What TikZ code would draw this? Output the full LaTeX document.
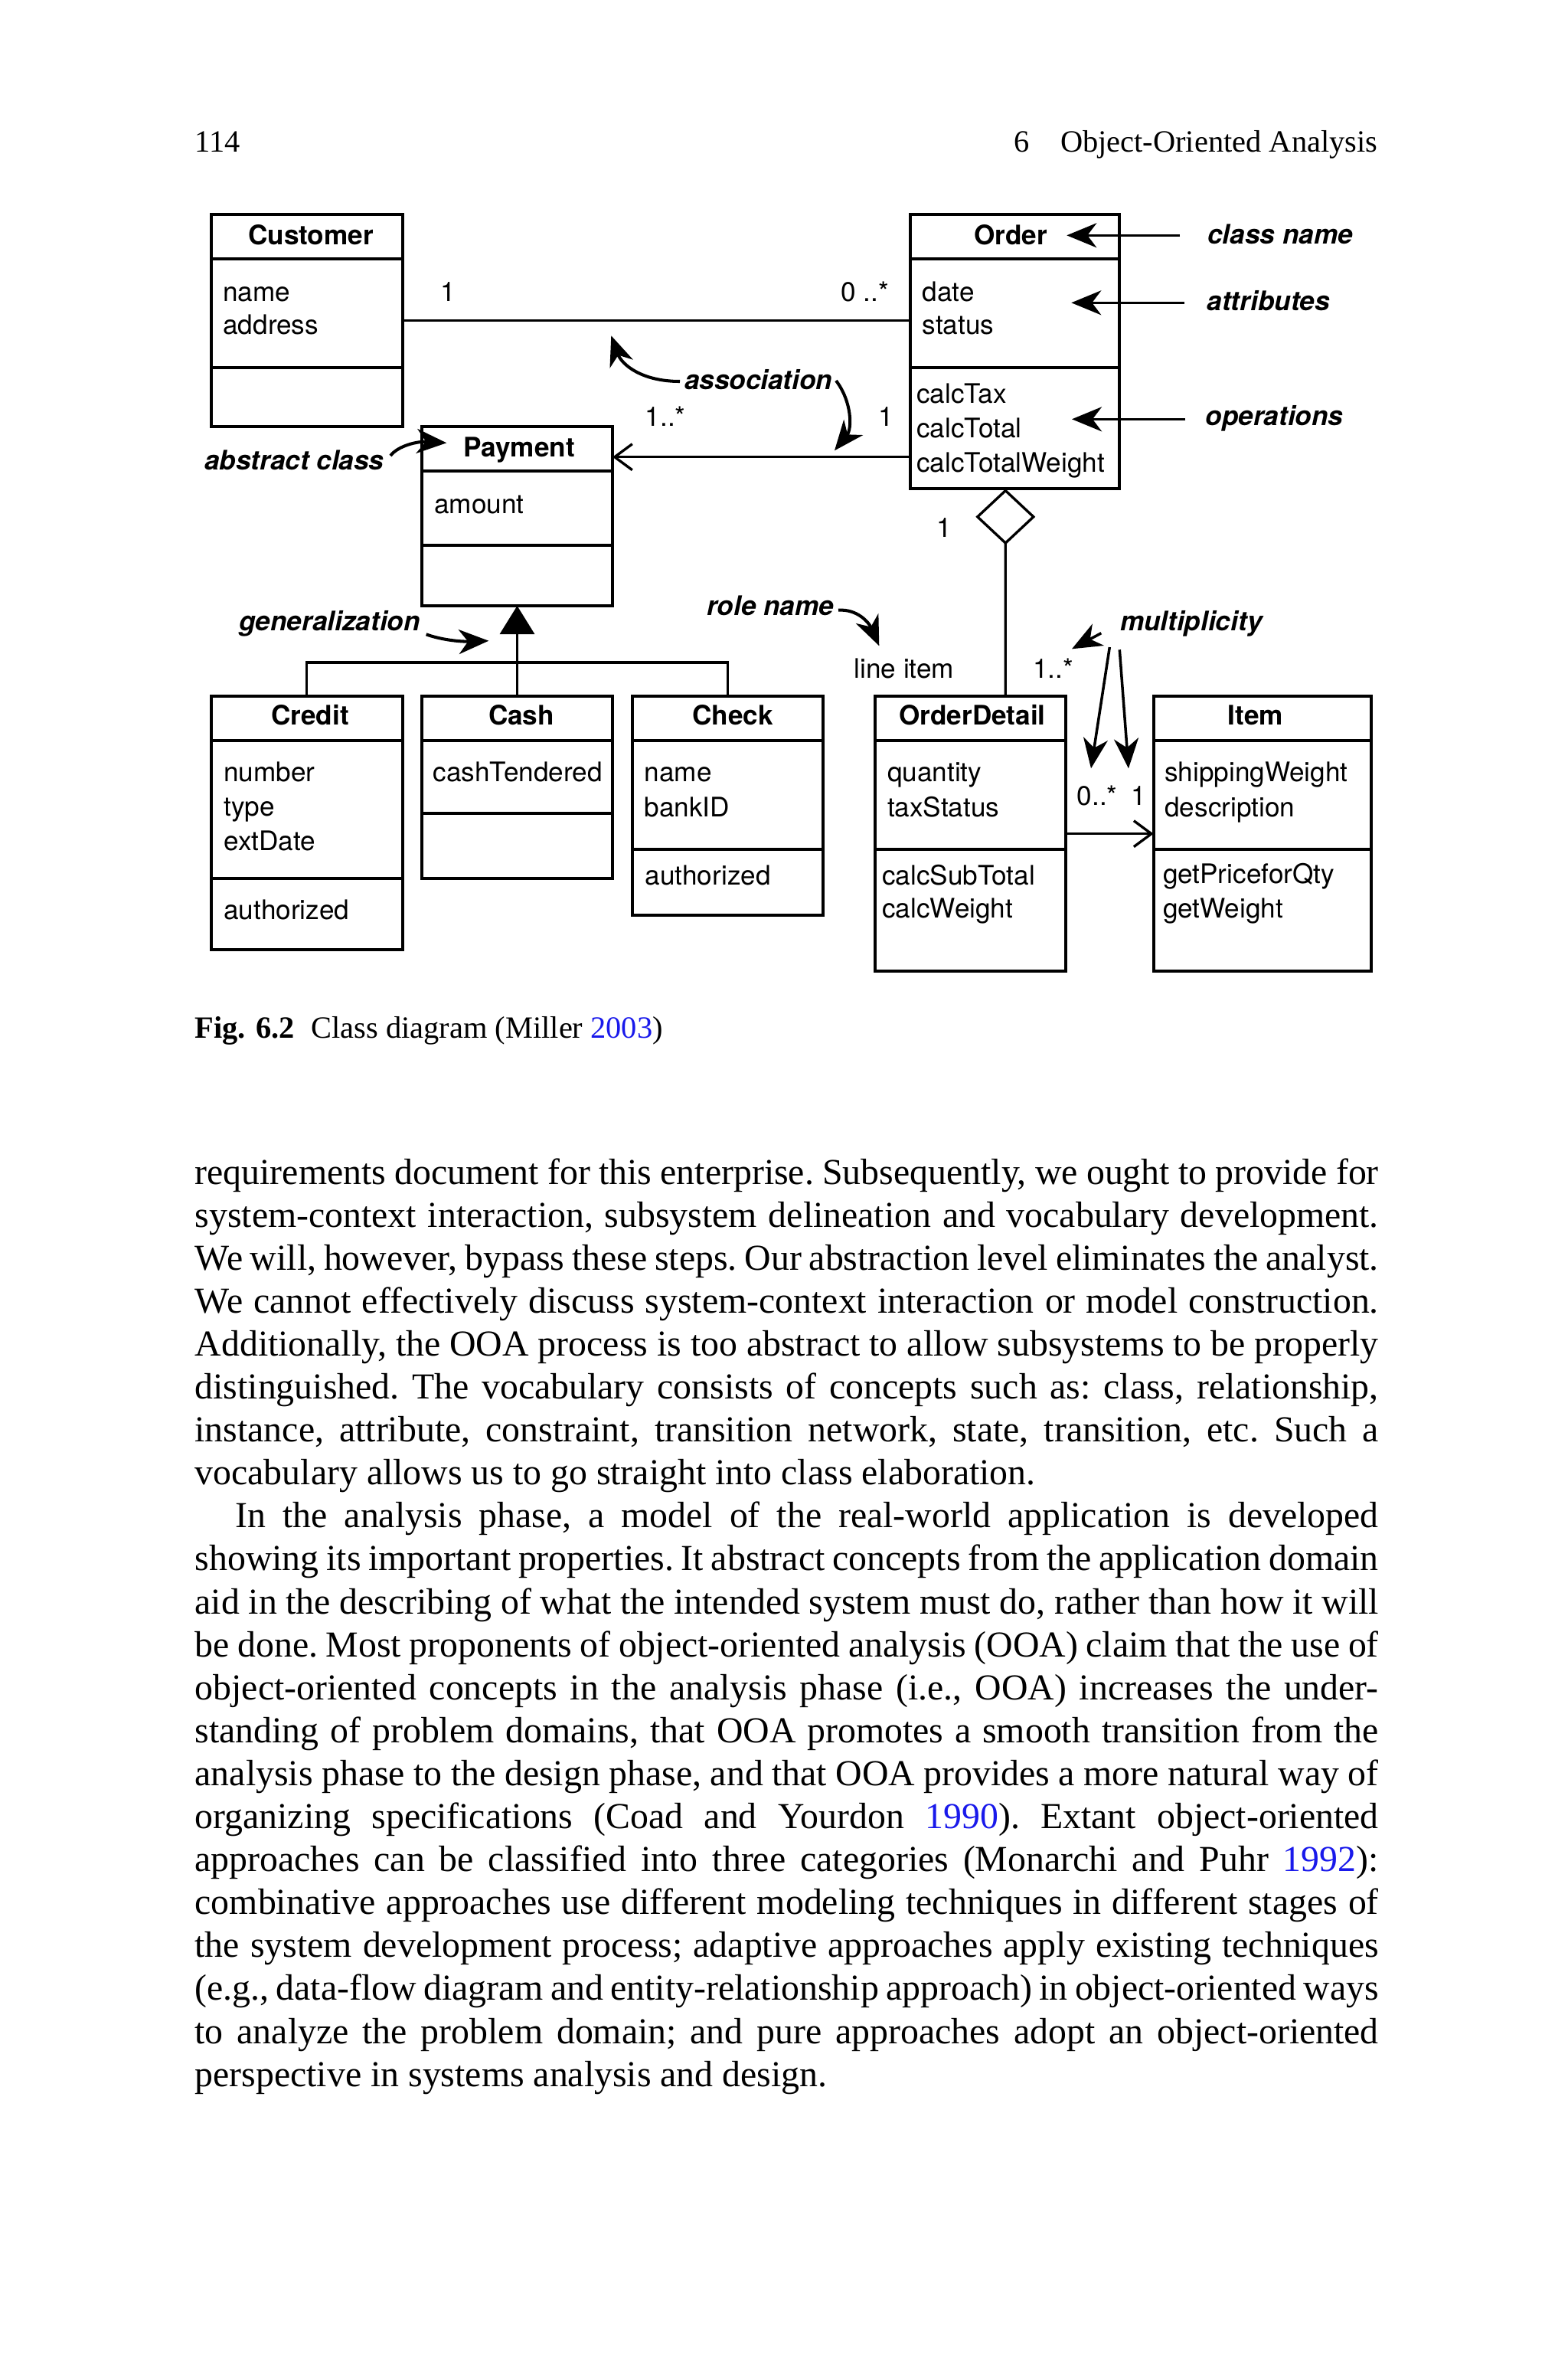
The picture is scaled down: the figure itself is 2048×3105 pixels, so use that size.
\documentclass[tikz,border=0pt]{standalone}
\usepackage{fontspec}
\setmainfont{Liberation Serif}
\newfontfamily\hv{TeX Gyre Heros}
\usetikzlibrary{arrows.meta,fit,calc}
\definecolor{citeblue}{RGB}{25,25,235}
\tikzset{
  cbox/.style={draw, line width=1.15pt, inner sep=0pt, outer sep=0pt},
  cdiv/.style={line width=1.15pt},
  conn/.style={line width=0.95pt},
  ann/.style={line width=1.0pt, -{Stealth[length=3.9mm,width=3.2mm,inset=1.2mm]}},
  cann/.style={ann, line width=1.15pt},
  navarrow/.style={conn, -{Straight Barb[length=2.3mm,width=3.4mm]}},
  ctitle/.style={font=\hv\bfseries\fontsize{10}{12}\selectfont, inner sep=0pt, anchor=base},
  ctxt/.style={font=\hv\fontsize{10}{12}\selectfont, inner sep=0pt, anchor=base west},
  atxt/.style={font=\hv\bfseries\itshape\fontsize{10}{12}\selectfont, inner sep=0pt, anchor=base west},
  body/.style={font=\fontsize{13.6}{16.3}\selectfont, inner sep=0pt, anchor=base west},
  runhead/.style={font=\fontsize{11.5}{13.8}\selectfont, inner sep=0pt},
}
\newcommand\umlclass[7]{%
  \node[cbox, fit={(#2,#3) (#4,#5)}] (#1) {};
  \draw[cdiv] (#2,#6) -- (#4,#6);
  \draw[cdiv] (#2,#7) -- (#4,#7);
}
\newcommand\jline[3]{\node[body] (#1) at (254,#2) {\frenchspacing\hbox to 154.6mm{#3}};}
\newcommand\nline[3]{\node[body] (#1) at (254,#2) {\frenchspacing #3};}
\begin{document}
\begin{tikzpicture}[x=0.1mm,y=-0.1mm]
\useasboundingbox (0,0) rectangle (2048,3105);
\fill[white] (0,0) rectangle (2048,3105);

% running head
\node[runhead, anchor=base west] (pageno) at (254,198) {114};
\node[runhead, anchor=base east] (chap) at (1800,198) {6\hspace{4mm}Object-Oriented Analysis};

% ---------- classes ----------
\umlclass{customer}{275.7}{280}{525.7}{556.7}{337.7}{480}
\node[ctitle] (customer-t) at (406,319.3) {Customer};
\node[ctxt] (customer-a1) at (290.7,393.3) {name};
\node[ctxt] (customer-a2) at (290.7,436.7) {address};

\umlclass{order}{1189.3}{280}{1462.3}{638.3}{337.7}{480}
\node[ctitle] (order-t) at (1320,319.3) {Order};
\node[ctxt] (order-a1) at (1204,393.3) {date};
\node[ctxt] (order-a2) at (1204,436.7) {status};
\node[ctxt] (order-o1) at (1196.7,526.7) {calcTax};
\node[ctxt] (order-o2) at (1196.7,571.7) {calcTotal};
\node[ctxt] (order-o3) at (1196.7,616.7) {calcTotalWeight};

\umlclass{payment}{551}{557.3}{800}{791}{615}{711.7}
\node[ctitle] (payment-t) at (678,596.7) {Payment};
\node[ctxt] (payment-a1) at (566.7,670) {amount};

\umlclass{credit}{275.7}{909}{525.7}{1240}{966.7}{1147.3}
\node[ctitle] (credit-t) at (405,946.7) {Credit};
\node[ctxt] (credit-a1) at (291.7,1020) {number};
\node[ctxt] (credit-a2) at (291.7,1065) {type};
\node[ctxt] (credit-a3) at (291.7,1110) {extDate};
\node[ctxt] (credit-o1) at (291.7,1200) {authorized};

\umlclass{cash}{551}{909}{800}{1146.7}{966.7}{1062.3}
\node[ctitle] (cash-t) at (681,946.7) {Cash};
\node[ctxt] (cash-a1) at (565,1020) {cashTendered};

\umlclass{check}{826}{909}{1075}{1195}{966.7}{1109.3}
\node[ctitle] (check-t) at (957,946.7) {Check};
\node[ctxt] (check-a1) at (841,1020) {name};
\node[ctxt] (check-a2) at (841,1066.7) {bankID};
\node[ctxt] (check-o1) at (842,1155) {authorized};

\umlclass{orderdetail}{1142.7}{909}{1392.3}{1268.3}{966.7}{1109.3}
\node[ctitle] (orderdetail-t) at (1270,946.7) {OrderDetail};
\node[ctxt] (orderdetail-a1) at (1158.3,1020) {quantity};
\node[ctxt] (orderdetail-a2) at (1158.3,1066.7) {taxStatus};
\node[ctxt] (orderdetail-o1) at (1151.7,1155) {calcSubTotal};
\node[ctxt] (orderdetail-o2) at (1151.7,1198.3) {calcWeight};

\umlclass{item}{1506.7}{909}{1790.7}{1268.3}{966.7}{1109.3}
\node[ctitle] (item-t) at (1640,946.7) {Item};
\node[ctxt] (item-a1) at (1520.7,1020) {shippingWeight};
\node[ctxt] (item-a2) at (1520.7,1066.7) {description};
\node[ctxt] (item-o1) at (1518.3,1153.3) {getPriceforQty};
\node[ctxt] (item-o2) at (1518.3,1198.3) {getWeight};

% ---------- relations ----------
\draw[conn] (customer.east) -- (customer.east -| order.west);
\coordinate (payy) at (0,596.7);
\draw[navarrow] (order.west |- payy) -- (payment.east |- payy);
\draw[conn, -{Diamond[open,length=7.3mm,width=7.8mm]}]
  ($(orderdetail.north)+(45.8,0)$) -- ($(order.south)+(-12.5,0)$);
\draw[navarrow] (orderdetail.east) -- (item.west);
\coordinate (gj) at (675.5,865);
\draw[conn] (credit.north) |- (gj) -| (check.north);
\draw[conn, -{Triangle[length=3.7mm,width=4.5mm]}] (cash.north) -- (payment.south);

% multiplicities
\node[ctxt] (m1) at (575,393) {1};
\node[ctxt] (m2) at (1098,393) {0 ..*};
\node[ctxt] (m3) at (842,556.7) {1..*};
\node[ctxt] (m4) at (1147,556.7) {1};
\node[ctxt] (m5) at (1223,701.7) {1};
\node[ctxt] (rolen) at (1115,885) {line item};
\node[ctxt] (m6) at (1348.3,885) {1..*};
\node[ctxt] (m7) at (1406,1051.7) {0..*};
\node[ctxt] (m8) at (1477,1051.7) {1};

% ---------- annotations ----------
\node[atxt] (l-assoc) at (893.3,508.3) {association};
\node[atxt] (l-abstract) at (266.7,613.3) {abstract class};
\node[atxt] (l-cname) at (1576.7,318.3) {class name};
\node[atxt] (l-attr) at (1576,405) {attributes};
\node[atxt] (l-ops) at (1574,555) {operations};
\node[atxt] (l-gen) at (311.7,823.3) {generalization};
\node[atxt, anchor=base east] (l-role) at (1090,803) {role name};
\node[atxt] (l-mult) at (1462.3,823.3) {multiplicity};

\coordinate (c-cn) at (1541,307.3);   \coordinate (t-cn) at (1393.3,307.3);
\coordinate (c-at) at (1547,395.3);   \coordinate (t-at) at (1399.3,395.3);
\coordinate (c-op) at (1548.3,547.3); \coordinate (t-op) at (1400,547.3);
\draw[ann] (c-cn) -- (t-cn);
\draw[ann] (c-at) -- (t-at);
\draw[ann] (c-op) -- (t-op);

\coordinate (s-as1) at (888,498);    \coordinate (t-as1) at (798.3,438.3);
\coordinate (s-as2) at (1092,497);   \coordinate (t-as2) at (1090,588.3);
\coordinate (s-ab) at (510,595);     \coordinate (t-ab) at (583.3,578.3);
\coordinate (s-ge) at (556.7,828.3); \coordinate (t-ge) at (638.3,836.7);
\coordinate (s-ro) at (1095,796.7);  \coordinate (t-ro) at (1148.3,843.3);
\draw[cann] (s-as1) .. controls (838,498) and (812,476) .. (t-as1);
\draw[cann] (s-as2) .. controls (1113,525) and (1113,560) .. (t-as2);
\draw[cann] (s-ab) .. controls (520,582) and (545,576) .. (t-ab);
\draw[cann] (s-ge) .. controls (575,835) and (600,838) .. (t-ge);
\draw[cann] (s-ro) .. controls (1120,795) and (1135,813) .. (t-ro);

\coordinate (s-mu1) at (1438.3,826.7); \coordinate (t-mu1) at (1400,847.3);
\coordinate (s-mu2) at (1449.3,845);   \coordinate (t-mu2) at (1425,1003.3);
\coordinate (s-mu3) at (1462.3,848.3); \coordinate (t-mu3) at (1474,1003.3);
\draw[ann] (s-mu1) -- (t-mu1);
\draw[ann] (s-mu2) -- (t-mu2);
\draw[ann] (s-mu3) -- (t-mu3);

% ---------- caption ----------
\node[runhead, anchor=base west] (figno) at (254,1355) {\textbf{Fig. 6.2}};
\node[runhead, anchor=base west] (figcap) at (406,1355) {Class diagram (Miller \textcolor{citeblue}{2003})};

% ---------- body text ----------
\jline{b1}{1546}{requirements document for this enterprise. Subsequently, we ought to provide for}
\jline{b2}{1602.1}{system-context interaction, subsystem delineation and vocabulary development.}
\jline{b3}{1658.2}{We will, however, bypass these steps. Our abstraction level eliminates the analyst.}
\jline{b4}{1714.3}{We cannot effectively discuss system-context interaction or model construction.}
\jline{b5}{1770.4}{Additionally, the OOA process is too abstract to allow subsystems to be properly}
\jline{b6}{1826.5}{distinguished. The vocabulary consists of concepts such as: class, relationship,}
\jline{b7}{1882.6}{instance, attribute, constraint, transition network, state, transition, etc. Such a}
\nline{b8}{1938.7}{vocabulary allows us to go straight into class elaboration.}
\jline{b9}{1994.8}{\hspace*{5.3mm}In the analysis phase, a model of the real-world application is developed}
\jline{b10}{2050.9}{showing its important properties. It abstract concepts from the application domain}
\jline{b11}{2107}{aid in the describing of what the intended system must do, rather than how it will}
\jline{b12}{2163.1}{be done. Most proponents of object-oriented analysis (OOA) claim that the use of}
\jline{b13}{2219.2}{object-oriented concepts in the analysis phase (i.e., OOA) increases the under-}
\jline{b14}{2275.3}{standing of problem domains, that OOA promotes a smooth transition from the}
\jline{b15}{2331.4}{analysis phase to the design phase, and that OOA provides a more natural way of}
\jline{b16}{2387.5}{organizing specifications (Coad and Yourdon \textcolor{citeblue}{1990}). Extant object-oriented}
\jline{b17}{2443.6}{approaches can be classified into three categories (Monarchi and Puhr \textcolor{citeblue}{1992}):}
\jline{b18}{2499.7}{combinative approaches use different modeling techniques in different stages of}
\jline{b19}{2555.8}{the system development process; adaptive approaches apply existing techniques}
\jline{b20}{2611.9}{(e.g., data-flow diagram and entity-relationship approach) in object-oriented ways}
\jline{b21}{2668}{to analyze the problem domain; and pure approaches adopt an object-oriented}
\nline{b22}{2724.1}{perspective in systems analysis and design.}
\end{tikzpicture}
\end{document}
